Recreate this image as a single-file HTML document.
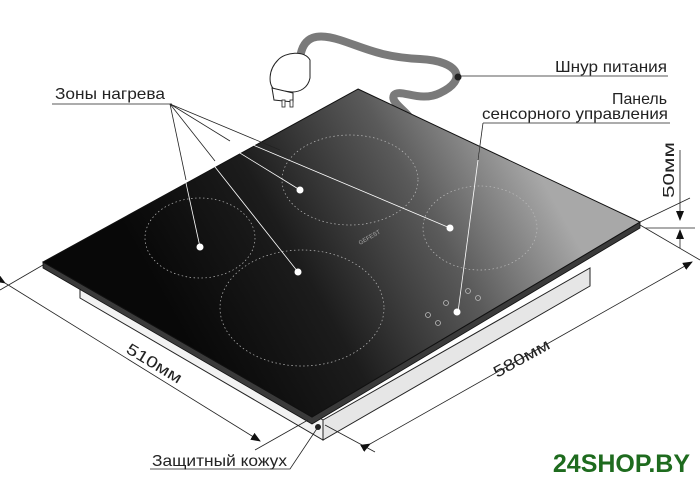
<!DOCTYPE html>
<html><head><meta charset="utf-8"><style>
html,body{margin:0;padding:0;background:#fff;}
svg{display:block;}
text{font-family:"Liberation Sans",sans-serif;fill:#222;}
</style></head><body>
<svg width="700" height="485" viewBox="0 0 700 485" xmlns="http://www.w3.org/2000/svg">
<defs>
<linearGradient id="g" gradientUnits="userSpaceOnUse" x1="180" y1="330" x2="520" y2="140">
<stop offset="0" stop-color="#080808"/><stop offset="0.35" stop-color="#1c1c1c"/><stop offset="0.7" stop-color="#5a5a5a"/><stop offset="1" stop-color="#a8a8a8"/>
</linearGradient>
<marker id="a" markerWidth="10" markerHeight="8" refX="9" refY="4" orient="auto" markerUnits="userSpaceOnUse"><path d="M0,0 L10,4 L0,8 Z" fill="#111"/></marker>
</defs>
<path d="M300,58 C303,35 318,33 340,40 C365,48 380,57 420,59 C460,61 468,80 440,93 C420,103 400,88 394,95 C390,102 405,110 410,118" fill="none" stroke="#7a7a7a" stroke-width="8" stroke-linecap="round"/>
<path d="M278,60 C285,52 305,50 310,60 L310,78 C308,88 300,92 292,92 L275,90 C268,85 268,70 278,60 Z" fill="#fff" stroke="#222" stroke-width="1"/>
<path d="M272,88 L293,93 L293,102 L274,100 Z" fill="#fff" stroke="#222" stroke-width="1"/>
<rect x="282" y="100" width="3" height="7" fill="#fff" stroke="#222" stroke-width="0.8"/>
<rect x="290" y="100" width="3" height="7" fill="#fff" stroke="#222" stroke-width="0.8"/>
<polygon points="80,280 323,420 323,440 80,298" fill="#f2f2f2" stroke="#222" stroke-width="1"/>
<polygon points="323,420 590,268 590,286 323,440" fill="#e6e6e6" stroke="#222" stroke-width="1"/>
<polygon points="43,262 312,417 640,222 640,228 312,424 43,268" fill="#3a3a3a" stroke="#111" stroke-width="0.8"/>
<polygon points="358,89 640,222 312,417 43,262" fill="url(#g)" stroke="#111" stroke-width="1"/>
<g fill="none" stroke="#bbb" stroke-width="0.7" stroke-dasharray="1.5 2.5">
<ellipse cx="200" cy="238" rx="55" ry="40"/>
<ellipse cx="350" cy="180" rx="68" ry="45"/>
<ellipse cx="480" cy="228" rx="57" ry="42"/>
<ellipse cx="302" cy="308" rx="82" ry="58"/>
</g>
<text x="360" y="245" font-size="6" transform="rotate(-30 360 245)" style="fill:#aaa">GEFEST</text>
<g fill="none" stroke="#bbb" stroke-width="0.8">
<circle cx="468" cy="291" r="2.5"/><circle cx="478" cy="298" r="2.5"/><circle cx="446" cy="303" r="2.5"/><circle cx="428" cy="315" r="2.5"/><circle cx="438" cy="323" r="2.5"/>
</g>
<g stroke="#fff" stroke-width="0.8">
<line x1="170" y1="110" x2="200" y2="247"/><line x1="170" y1="110" x2="300" y2="190"/><line x1="170" y1="110" x2="298" y2="272"/><line x1="170" y1="110" x2="450" y2="228"/>
<line x1="483" y1="122" x2="458" y2="312"/>
</g>
<g stroke="#222" stroke-width="0.8">
<line x1="52" y1="104" x2="172" y2="104"/>
<line x1="458" y1="76" x2="668" y2="76"/>
<line x1="483" y1="123" x2="670" y2="123"/>
<line x1="170" y1="104" x2="186" y2="180"/><line x1="170" y1="104" x2="230" y2="141"/><line x1="170" y1="104" x2="215" y2="161"/><line x1="170" y1="104" x2="280" y2="150"/>
<line x1="483" y1="123" x2="478" y2="160"/>
</g>
<g fill="#fff"><circle cx="200" cy="247" r="3.5"/><circle cx="300" cy="190" r="3.5"/><circle cx="298" cy="272" r="3.5"/><circle cx="450" cy="228" r="3.5"/><circle cx="457" cy="312" r="3.5"/></g>
<circle cx="458" cy="77" r="3.5" fill="#222"/>
<circle cx="318" cy="427" r="3" fill="#222"/>
<polyline points="150,469 290,469 318,427" fill="none" stroke="#222" stroke-width="0.8"/>
<g stroke="#222" stroke-width="0.8" fill="none">
<line x1="43" y1="265" x2="0" y2="290"/>
<line x1="308" y1="420" x2="255" y2="450"/>
<line x1="5" y1="283" x2="260" y2="441" marker-end="url(#a)" marker-start="url(#a)"/>
<line x1="325" y1="425" x2="375" y2="452"/>
<line x1="640" y1="225" x2="700" y2="260"/>
<line x1="370" y1="444" x2="692" y2="262" marker-end="url(#a)" marker-start="url(#a)"/>
<line x1="640" y1="222" x2="690" y2="198"/>
<line x1="645" y1="228" x2="695" y2="228"/>
<line x1="680" y1="150" x2="680" y2="220" marker-end="url(#a)"/>
<line x1="680" y1="248" x2="680" y2="230" marker-end="url(#a)"/>
</g>
<text x="0" y="0" font-size="16" textLength="62" lengthAdjust="spacingAndGlyphs" transform="translate(125,352) rotate(31)">510мм</text>
<text x="0" y="0" font-size="16" textLength="62" lengthAdjust="spacingAndGlyphs" transform="translate(497,378) rotate(-29)">580мм</text>
<text x="0" y="0" font-size="16" textLength="56" lengthAdjust="spacingAndGlyphs" transform="translate(674,198) rotate(-90)">50мм</text>
<text x="55" y="99" font-size="16" textLength="110" lengthAdjust="spacingAndGlyphs">Зоны нагрева</text>
<text x="555" y="72" font-size="16" textLength="112" lengthAdjust="spacingAndGlyphs">Шнур питания</text>
<text x="612" y="104" font-size="16" textLength="55" lengthAdjust="spacingAndGlyphs">Панель</text>
<text x="482" y="119" font-size="16" textLength="186" lengthAdjust="spacingAndGlyphs">сенсорного управления</text>
<text x="152" y="466" font-size="16" textLength="135" lengthAdjust="spacingAndGlyphs">Защитный кожух</text>
<text x="690" y="472" font-size="25" font-weight="bold" text-anchor="end" style="fill:#1e6b1e">24SHOP.BY</text>
</svg>
</body></html>
